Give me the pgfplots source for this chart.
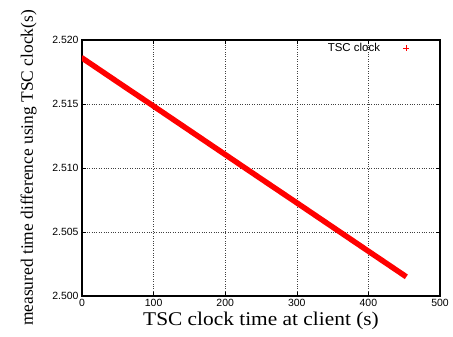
\documentclass[border=0pt]{standalone}
\usepackage{fontspec}
\setmainfont{Liberation Serif}
\newfontfamily\helv{Liberation Sans}
\usepackage{pgfplots}
\pgfplotsset{compat=1.18}
\begin{document}
\begin{tikzpicture}[x=1bp,y=1bp]
\begin{axis}[
  at={(0,0)}, anchor=south west,
  width=358bp, height=256bp, scale only axis,
  xmin=0, xmax=500, ymin=2.5, ymax=2.52,
  xtick={0,100,200,300,400,500},
  ytick={2.500,2.505,2.510,2.515,2.520},
  yticklabel style={/pgf/number format/.cd, fixed, fixed zerofill, precision=3},
  /pgf/number format/assume math mode=true,
  ticklabel style={font=\helv\fontsize{10.5}{12}\selectfont},
  tick align=inside,
  major tick length=4bp,
  tick style={black, line width=0.6bp},
  grid=major,
  grid style={dotted, black!75, line width=0.6bp},
  axis line style={black, line width=1.2bp},
  xlabel={TSC clock time at client (s)},
  ylabel={measured time difference using TSC clock(s)},
  xlabel style={at={([yshift=-29bp]rel axis cs:0.5,0)}, anchor=base, font=\fontsize{19.5}{21}\selectfont, xscale=1.1},
  ylabel style={at={([xshift=-49bp]rel axis cs:0,0.5)}, anchor=base, font=\fontsize{17.5}{20}\selectfont},
  legend style={at={([xshift=-28bp,yshift=1bp]rel axis cs:1,1)}, anchor=north east, draw=none, fill=none,
    font=\helv\fontsize{11.5}{13}\selectfont},
  legend plot pos=right,
  legend cell align=right,
]
\addlegendimage{legend image code/.code={
  \path[draw=none] (0bp,0bp) -- (24bp,0bp);
  \draw[red, line width=0.6bp] plot[mark=+, mark size=2.8bp] coordinates {(24bp,0bp)};
}}
\addlegendentry{TSC clock}
\addplot[red, line width=5.5bp, line cap=butt, forget plot] coordinates {
  (-1,2.51864) (0,2.51860) (50,2.51671) (100,2.51483) (150,2.51294) (200,2.51105)
  (250,2.50916) (300,2.50728) (350,2.50539) (400,2.50350) (453,2.50150)
};
\end{axis}
\path (-82,-40) rectangle (371,296);
\end{tikzpicture}
\end{document}
